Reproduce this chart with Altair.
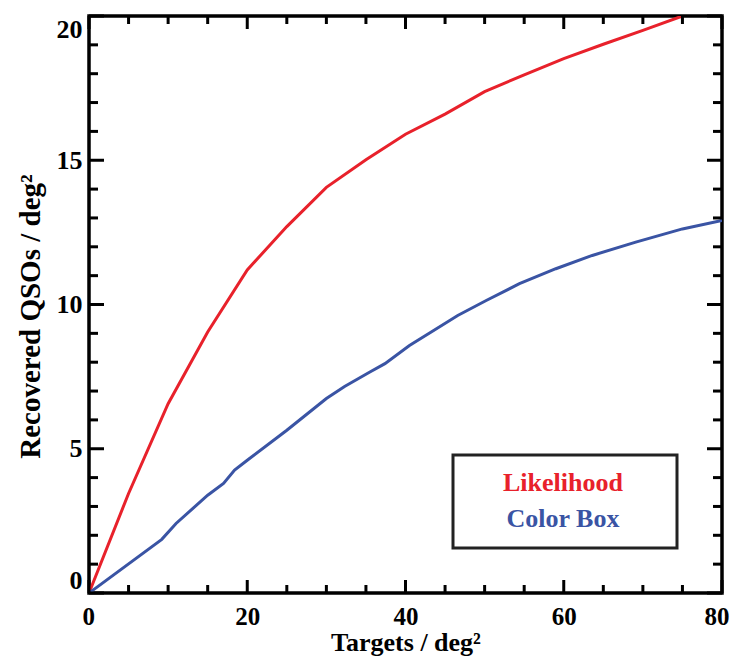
import altair as alt
import pandas as pd

# ---- data ----
like_x = [0, 5, 10, 15, 20, 25, 30, 35, 40, 45, 50, 55, 60, 65, 70, 75]
like_y = [0, 3.45, 6.56, 9.05, 11.2, 12.7, 14.06, 15.02, 15.9, 16.6, 17.38, 17.96, 18.52, 19.02, 19.5, 20.0]

box_x = [0, 9.2, 11, 15, 17, 18.4, 20, 25, 30, 32.3, 35.5, 37.4, 40.5, 43.2, 46.6, 50.2, 54.4, 59, 63.6, 69.1, 75, 80]
box_y = [0, 1.86, 2.41, 3.39, 3.80, 4.26, 4.60, 5.64, 6.74, 7.16, 7.66, 7.95, 8.58, 9.04, 9.62, 10.14, 10.72, 11.24, 11.70, 12.16, 12.62, 12.91]

series_names = ["Likelihood", "Color Box"]
series_colors = ["#e8212b", "#3a54a4"]

x_major = [0, 20, 40, 60, 80]
x_minor = [5, 10, 15, 25, 30, 35, 45, 50, 55, 65, 70, 75]
y_major = [0, 5, 10, 15, 20]
y_minor = [1, 2, 3, 4, 6, 7, 8, 9, 11, 12, 13, 14, 16, 17, 18, 19]

x_title = "Targets / deg²"
y_title = "Recovered QSOs / deg²"

W, H = 633, 577
FONT = "Liberation Serif"

df = pd.concat([
    pd.DataFrame({"x": like_x, "y": like_y, "s": series_names[0]}),
    pd.DataFrame({"x": box_x, "y": box_y, "s": series_names[1]}),
])

xs = alt.Scale(domain=[0, 80], nice=False, zero=False)
ys = alt.Scale(domain=[0, 20], nice=False, zero=False)

lines = alt.Chart(df).mark_line(strokeWidth=3, clip=True).encode(
    x=alt.X("x:Q", scale=xs, title=x_title,
            axis=alt.Axis(values=x_major, ticks=False, tickSize=0, domain=False, grid=False,
                          labelFlush=True, labelFlushOffset=7, labelFont=FONT, labelFontWeight="bold",
                          labelFontSize=25, labelColor="black", labelPadding=11,
                          titleFont=FONT, titleFontWeight="bold", titleFontSize=26,
                          titleColor="black", titlePadding=0)),
    y=alt.Y("y:Q", scale=ys, title=y_title,
            axis=alt.Axis(values=y_major, ticks=False, tickSize=0, domain=False, grid=False,
                          labelFlush=True, labelFont=FONT, labelFontWeight="bold",
                          labelFontSize=26, labelColor="black", labelPadding=7,
                          titleFont=FONT, titleFontWeight="bold", titleFontSize=29,
                          titleColor="black", titlePadding=11, titleY=300)),
    color=alt.Color("s:N", scale=alt.Scale(domain=series_names, range=series_colors), legend=None),
    detail="s:N",
)

def xticks(vals, length):
    d = pd.DataFrame({"v": vals})
    base = alt.Chart(d).mark_rule(strokeWidth=3, color="black")
    bottom = base.encode(x=alt.X("v:Q", scale=xs), y=alt.value(H), y2=alt.value(H - length))
    top = base.encode(x=alt.X("v:Q", scale=xs), y=alt.value(0), y2=alt.value(length))
    return [bottom, top]

def yticks(vals, length):
    d = pd.DataFrame({"v": vals})
    base = alt.Chart(d).mark_rule(strokeWidth=3, color="black")
    left = base.encode(y=alt.Y("v:Q", scale=ys), x=alt.value(0), x2=alt.value(length))
    right = base.encode(y=alt.Y("v:Q", scale=ys), x=alt.value(W), x2=alt.value(W - length))
    return [left, right]

ticks = xticks(x_major, 13) + xticks(x_minor, 8) + yticks(y_major, 15) + yticks(y_minor, 9)

legend_box = alt.Chart(pd.DataFrame({"k": [0]})).mark_rect(
    fill="white", stroke="#222222", strokeWidth=3
).encode(x=alt.value(364), x2=alt.value(588), y=alt.value(439), y2=alt.value(532))

def legend_label(i, ypix):
    return alt.Chart(pd.DataFrame({"name": [series_names[i]]})).mark_text(
        font=FONT, fontWeight="bold", fontSize=26, align="center", baseline="middle",
        color=series_colors[i]
    ).encode(x=alt.value(474), y=alt.value(ypix), text="name:N")

chart = alt.layer(lines, *ticks, legend_box, legend_label(0, 467), legend_label(1, 503)).properties(
    width=W, height=H,
    autosize=alt.AutoSizeParams(type="none"),
    padding={"left": 81, "top": 8, "right": 8, "bottom": 63},
    background="white",
).configure_view(stroke="black", strokeWidth=3.5)

chart.save("out.html", embed_options={"renderer": "svg", "actions": False})
